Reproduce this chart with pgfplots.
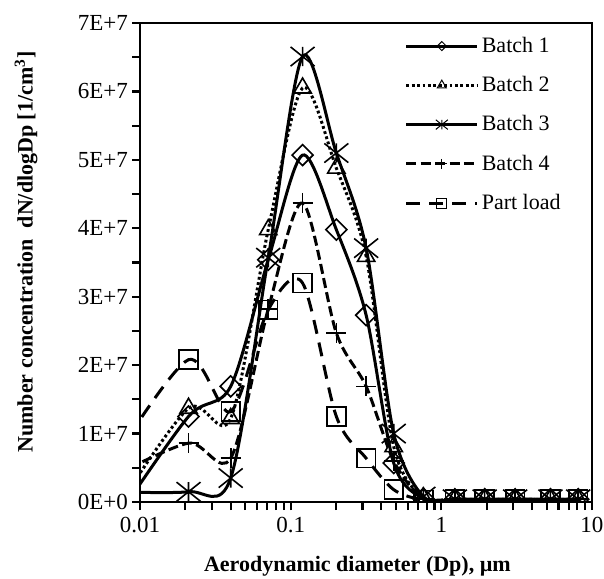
\documentclass[border=0pt]{standalone}
\usepackage{pgfplots}
\pgfplotsset{compat=1.18}
\usepackage{pgfplotstable}
\usepackage{fontspec}
\setmainfont{Liberation Serif}

% Excel-like "star" marker: an X with a vertical bar
\pgfdeclareplotmark{xstar}{%
  \pgfpathmoveto{\pgfqpoint{-\pgfplotmarksize}{-0.8\pgfplotmarksize}}%
  \pgfpathlineto{\pgfqpoint{\pgfplotmarksize}{0.8\pgfplotmarksize}}%
  \pgfpathmoveto{\pgfqpoint{-\pgfplotmarksize}{0.8\pgfplotmarksize}}%
  \pgfpathlineto{\pgfqpoint{\pgfplotmarksize}{-0.8\pgfplotmarksize}}%
  \pgfpathmoveto{\pgfqpoint{0pt}{-0.8\pgfplotmarksize}}%
  \pgfpathlineto{\pgfqpoint{0pt}{0.8\pgfplotmarksize}}%
  \pgfusepathqstroke}

% values in units of 1E+7 per cm^3
\pgfplotstableread{
x      b1    b2    b3    b4    pl
0.007  -0.24 -0.10 0.15  0.40  0.68
0.021  1.25  1.37  0.15  0.86  2.08
0.040  1.69  1.22  0.35  0.64  1.32
0.071  3.54  3.98  3.57  2.82  2.81
0.120  5.07  6.05  6.51  4.37  3.20
0.201  3.98  4.88  5.10  2.47  1.25
0.317  2.73  3.59  3.71  1.69  0.64
0.483  0.57  0.81  1.00  0.60  0.18
0.760  0.05  0.06  0.08  0.04  0.03
1.230  0.04  0.04  0.04  0.04  0.04
1.940  0.04  0.04  0.04  0.04  0.04
3.090  0.04  0.04  0.04  0.04  0.04
5.300  0.04  0.04  0.04  0.04  0.04
8.100  0.04  0.04  0.04  0.04  0.04
}\data

\tikzset{
  s1/.style={black, line width=1.5pt, solid},
  s2/.style={black, line width=1.5pt, dash pattern=on 1.4pt off 1.3pt},
  s3/.style={black, line width=1.5pt, solid},
  s4/.style={black, line width=1.5pt, dash pattern=on 5pt off 2.2pt},
  s5/.style={black, line width=1.5pt, dash pattern=on 7pt off 4.5pt},
}

\begin{document}
\begin{tikzpicture}
\begin{axis}[
  scale only axis,
  width=226pt, height=239.5pt,
  at={(0,0)}, anchor=south west,
  xmode=log,
  xmin=0.01, xmax=10,
  ymin=0, ymax=7,
  xtick={0.01,0.1,1,10},
  xticklabels={0.01,0.1,1,10},
  ytick={0,1,2,3,4,5,6,7},
  yticklabels={0E+0,1E+7,2E+7,3E+7,4E+7,5E+7,6E+7,7E+7},
  minor ytick={0.5,1.5,2.5,3.5,4.5,5.5,6.5},
  tick align=outside,
  xtick pos=bottom, ytick pos=left,
  major tick length=4pt, minor tick length=4pt,
  every tick/.style={black, line width=1.1pt},
  every minor tick/.style={black, line width=1.1pt},
  axis line style={black, line width=1.2pt},
  tick label style={font=\fontsize{11.5}{13}\selectfont},
  yticklabel style={xshift=1.5pt},
  label style={font=\fontsize{11}{13}\selectfont\bfseries},
  xlabel={Aerodynamic diameter (Dp), µm},
  ylabel={Number concentration\ \ dN/dlogDp [1/cm\textsuperscript{3}]},
  xlabel style={at={(axis description cs:0.481,-0.134)}, anchor=center},
  ylabel style={at={(axis description cs:-0.252,0.522)}, anchor=center},
  clip marker paths=true,
  legend cell align=left,
  legend style={draw=none, fill=none, at={(axis description cs:0.585,0.978)}, anchor=north west,
    font=\fontsize{11}{13}\selectfont, row sep=7.5pt, inner sep=0pt,
    nodes={inner sep=1.5pt}},
  legend image code/.code={\draw[mark repeat=2,mark phase=2] plot coordinates {(0pt,0pt) (17.75pt,0pt) (35.5pt,0pt)};},
]
% smoothed curves
\addplot[s1, smooth, mark=none, forget plot] table[x=x, y=b1] {\data};
\addplot[s2, smooth, mark=none, forget plot] table[x=x, y=b2] {\data};
\addplot[s3, smooth, mark=none, forget plot] table[x=x, y=b3] {\data};
\addplot[s4, smooth, mark=none, forget plot] table[x=x, y=b4] {\data};
\addplot[s5, smooth, mark=none, forget plot] table[x=x, y=pl] {\data};
% markers
\addplot[only marks, forget plot, skip coords between index={0}{1}, mark=square, mark size=3.7pt,
  mark options={rotate=45, solid, black, line width=0.8pt}] table[x=x, y=b1] {\data};
\addplot[only marks, forget plot, skip coords between index={0}{1}, mark=triangle, mark size=5pt,
  mark options={solid, black, line width=0.8pt}] table[x=x, y=b2] {\data};
\addplot[only marks, forget plot, skip coords between index={0}{1}, mark=xstar, mark size=6pt,
  mark options={solid, black, line width=0.8pt}] table[x=x, y=b3] {\data};
\addplot[only marks, forget plot, skip coords between index={0}{1}, mark=+, mark size=5pt,
  mark options={solid, black, line width=0.8pt}] table[x=x, y=b4] {\data};
\addplot[only marks, forget plot, skip coords between index={0}{1}, mark=square, mark size=4.7pt,
  mark options={solid, black, line width=0.8pt}] table[x=x, y=pl] {\data};
% legend
\addlegendimage{s1, mark=square, mark size=1.6pt, mark options={rotate=45, solid, line width=0.5pt}}
\addlegendentry{Batch 1}
\addlegendimage{s2, mark=triangle, mark size=2.6pt, mark options={solid, line width=0.5pt}}
\addlegendentry{Batch 2}
\addlegendimage{s3, mark=xstar, mark size=3pt, mark options={solid, line width=0.5pt}}
\addlegendentry{Batch 3}
\addlegendimage{s4, mark=+, mark size=2.5pt, mark options={solid, line width=0.5pt}}
\addlegendentry{Batch 4}
\addlegendimage{s5, mark=square, mark size=2.5pt, mark options={solid, line width=0.5pt}}
\addlegendentry{Part load}
\end{axis}
\pgfresetboundingbox
\path[use as bounding box] (-70pt,-38pt) rectangle (232pt,251pt);
\end{tikzpicture}
\end{document}
